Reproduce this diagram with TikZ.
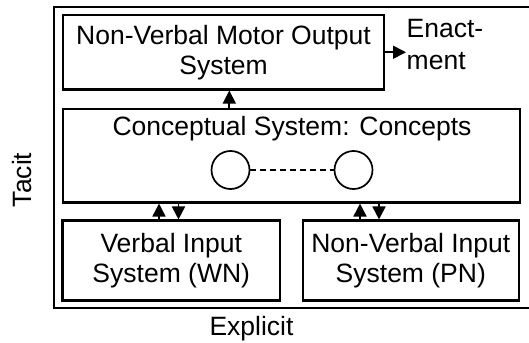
\documentclass[tikz,border=0pt]{standalone}
\usepackage{fontspec}
\setmainfont{Liberation Sans}
\usetikzlibrary{arrows.meta}
\begin{document}
\begin{tikzpicture}[x=1pt,y=-1pt,
  box/.style={draw,line width=2.1pt,inner sep=0pt,align=center,font=\fontsize{26.5}{30}\selectfont},
  lbl/.style={inner sep=0pt,font=\fontsize{26.5}{30}\selectfont},
  arr/.style={line width=1.7pt,-{Triangle[length=13pt,width=13pt]}},
  concept/.style={draw,circle,line width=1.7pt,minimum size=38pt,inner sep=0pt}]
\useasboundingbox (0,0) rectangle (529,342);
% outer frame
\draw[line width=2.1pt] (531,7) -- (54,7) -- (54,308) -- (531,308);
% boxes
\node[box,minimum width=321pt,minimum height=74.5pt] (mo) at (223.5,52.25) {Non-Verbal Motor Output\\System};
\node[box,minimum width=457pt,minimum height=93.5pt] (cs) at (291.5,155.75) {};
\node[box,minimum width=217.5pt,minimum height=80pt] (vi) at (171.25,260.5) {Verbal Input\\System (WN)};
\node[box,minimum width=216.4pt,minimum height=80pt] (ni) at (410.8,260.5) {Non-Verbal Input\\System (PN)};
% conceptual text and concepts
\node[lbl,anchor=base] (cst) at (292,135.5) {Conceptual System: Concepts};
\node[concept] (c1) at (230.5,170) {};
\node[concept] (c2) at (353.5,170) {};
\draw[line width=1.6pt,dash pattern=on 6pt off 4pt] (c1) -- (c2);
% enactment
\node[lbl,align=left,anchor=west,font=\fontsize{26.5}{32}\selectfont] (en) at (406.5,44.5) {Enact-\\ment};
\draw[arr,shorten >=0.5pt] (mo.east) -- (mo.east -| en.west);
% arrows
\coordinate (a1) at ([xshift=5.8pt]mo.south);
\draw[arr] (a1 |- cs.north) -- (a1);
\coordinate (v1) at ([xshift=-12.25pt]vi.north);
\coordinate (v2) at ([xshift=7.25pt]vi.north);
\draw[arr] (v1) -- (v1 |- cs.south);
\draw[arr] (v2 |- cs.south) -- (v2);
\coordinate (n1) at ([xshift=-50.8pt]ni.north);
\coordinate (n2) at ([xshift=-31.8pt]ni.north);
\draw[arr] (n1) -- (n1 |- cs.south);
\draw[arr] (n2 |- cs.south) -- (n2);
% axis labels
\node[lbl,rotate=90] (tacit) at (22,180) {Tacit};
\node[lbl,anchor=base] (explicit) at (251.5,335) {Explicit};
\end{tikzpicture}
\end{document}
